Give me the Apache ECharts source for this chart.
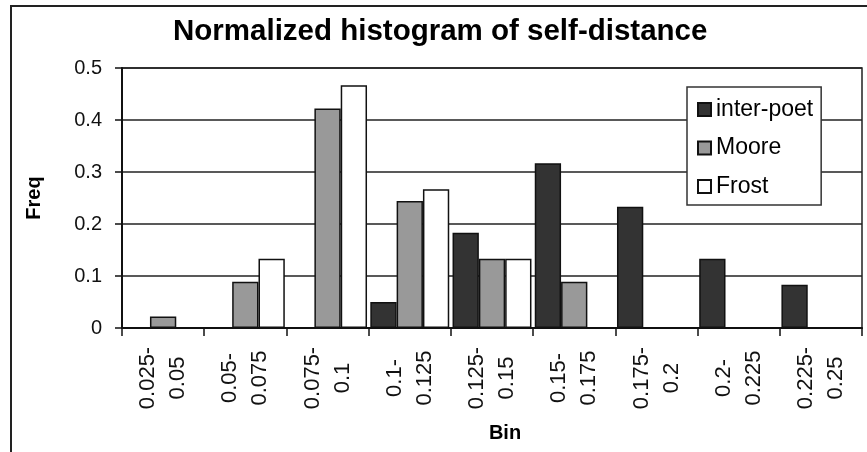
<!DOCTYPE html>
<html>
<head>
<meta charset="utf-8">
<script src="https://cdn.jsdelivr.net/npm/echarts@6/dist/echarts.min.js"></script>
<style>
  html, body { margin: 0; padding: 0; background: #fff; }
  #chart { width: 867px; height: 452px; }
</style>
</head>
<body>
<div id="chart"></div>
<script>
// Bins of self-distance
const bins = ['0.025-0.05', '0.05-0.075', '0.075-0.1', '0.1-0.125', '0.125-0.15',
              '0.15-0.175', '0.175-0.2', '0.2-0.225', '0.225-0.25'];

// Normalized frequency per bin
const interPoet = [0, 0, 0, 0.05, 0.183, 0.317, 0.233, 0.133, 0.083];
const moore     = [0.022, 0.089, 0.422, 0.244, 0.133, 0.089, 0, 0, 0];
const frost     = [0, 0.133, 0.467, 0.267, 0.133, 0, 0, 0, 0];

const yTicks = { min: 0, max: 0.5, step: 0.1 };

const FONT = '"Liberation Sans", Arial, sans-serif';
const barBorder = { borderColor: '#111', borderWidth: 1.5 };

const chart = echarts.init(document.getElementById('chart'), null, { renderer: 'canvas' });

chart.setOption({
  backgroundColor: '#fff',
  animation: false,
  title: {
    text: 'Normalized histogram of self-distance',
    left: 173,
    top: 17,
    padding: 0,
    textStyle: { fontFamily: FONT, fontSize: 29.5, fontWeight: 'bold', color: '#000' }
  },
  graphic: [{
    type: 'rect',
    shape: { x: 11, y: 6, width: 880, height: 470 },
    style: { fill: 'none', stroke: '#222', lineWidth: 2 },
    silent: true,
    z: 100
  }],
  legend: {
    orient: 'vertical',
    left: 687,
    top: 87,
    padding: [11, 8, 7, 10],
    itemWidth: 13,
    itemHeight: 13,
    itemGap: 15.5,
    icon: 'rect',
    backgroundColor: '#fff',
    borderColor: '#333',
    borderWidth: 1.5,
    textStyle: { fontFamily: FONT, fontSize: 23, color: '#000' },
    data: ['inter-poet', 'Moore', 'Frost']
  },
  grid: {
    left: 122, top: 68, right: 5, bottom: 124,
    show: true, borderColor: '#222', borderWidth: 1.5, backgroundColor: '#fff'
  },
  xAxis: {
    type: 'category',
    data: bins,
    name: 'Bin',
    nameLocation: 'middle',
    nameGap: 95,
    nameTextStyle: { fontFamily: FONT, fontSize: 20, fontWeight: 'bold', color: '#000', padding: [0, 0, 0, 26] },
    axisLine: { lineStyle: { color: '#111', width: 2 } },
    axisTick: { show: true, alignWithLabel: false, length: 8, lineStyle: { color: '#111', width: 1.5 } },
    axisLabel: {
      interval: 0,
      rotate: 90,
      align: 'center',
      verticalAlign: 'middle',
      margin: 50,
      lineHeight: 30,
      fontFamily: FONT,
      fontSize: 22,
      color: '#111',
      formatter: v => v.replace('-', '-\n')
    },
    splitLine: { show: false }
  },
  yAxis: {
    type: 'value',
    min: yTicks.min,
    max: yTicks.max,
    interval: yTicks.step,
    name: 'Freq',
    nameLocation: 'middle',
    nameRotate: 90,
    nameGap: 78,
    nameTextStyle: { fontFamily: FONT, fontSize: 20, fontWeight: 'bold', color: '#000' },
    axisLine: { show: true, lineStyle: { color: '#111', width: 2 } },
    axisTick: { show: true, inside: false, length: 7, lineStyle: { color: '#111', width: 1.5 } },
    axisLabel: { margin: 20, fontFamily: FONT, fontSize: 20, color: '#111' },
    splitLine: { show: true, lineStyle: { color: '#222', width: 1.5 } }
  },
  series: [
    { name: 'inter-poet', type: 'bar', data: interPoet, barGap: 0, barCategoryGap: '4%',
      itemStyle: Object.assign({ color: '#333333' }, barBorder) },
    { name: 'Moore', type: 'bar', data: moore, barGap: 0, barCategoryGap: '4%',
      itemStyle: Object.assign({ color: '#999999' }, barBorder) },
    { name: 'Frost', type: 'bar', data: frost, barGap: 0, barCategoryGap: '4%',
      itemStyle: Object.assign({ color: '#ffffff' }, barBorder) }
  ]
});
</script>
</body>
</html>
